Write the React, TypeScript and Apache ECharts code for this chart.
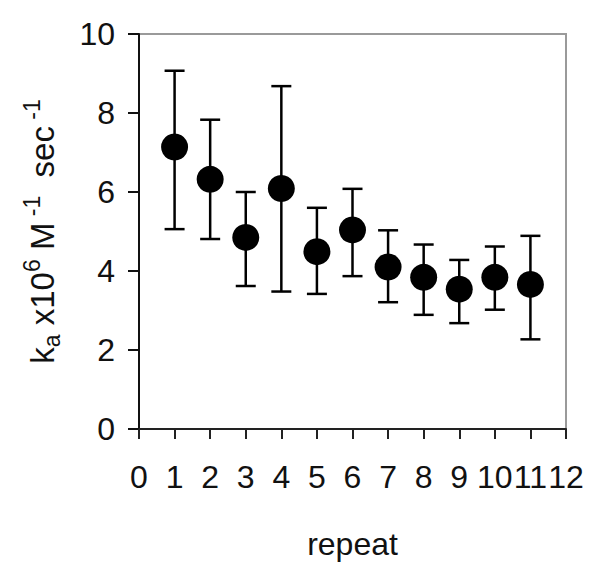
import React, { useEffect, useRef } from "react";
import * as echarts from "echarts";

const repeats = [1, 2, 3, 4, 5, 6, 7, 8, 9, 10, 11];
const kaMean = [7.14, 6.32, 4.85, 6.09, 4.49, 5.04, 4.1, 3.84, 3.54, 3.84, 3.66];
const kaUpper = [9.07, 7.83, 6.0, 8.68, 5.6, 6.08, 5.03, 4.67, 4.28, 4.62, 4.89];
const kaLower = [5.06, 4.81, 3.62, 3.48, 3.42, 3.87, 3.21, 2.89, 2.68, 3.02, 2.27];

const FONT = "'Liberation Sans', Arial, sans-serif";

export default function App() {
  const ref = useRef<HTMLDivElement>(null);
  useEffect(() => {
    if (!ref.current) return;
    const chart = echarts.init(ref.current, null, { renderer: "svg" });
    const points = repeats.map((r, i) => [r, kaMean[i]]);
    const bars = repeats.map((r, i) => [r, kaLower[i], kaUpper[i]]);
    chart.setOption({
      animation: false,
      backgroundColor: "#ffffff",
      grid: {
        left: 139,
        right: 34,
        top: 34,
        bottom: 144,
        show: true,
        borderColor: "#9a9a9a",
        borderWidth: 2,
      },
      xAxis: {
        type: "value",
        min: 0,
        max: 12,
        interval: 1,
        name: "repeat",
        nameLocation: "middle",
        nameGap: 99,
        nameTextStyle: { fontFamily: FONT, fontSize: 32, color: "#111" },
        axisLine: { show: true, onZero: false, lineStyle: { color: "#222", width: 2 } },
        axisTick: { show: true, inside: false, length: 10, lineStyle: { color: "#222", width: 2 } },
        axisLabel: { margin: 32, fontFamily: FONT, fontSize: 32, color: "#111" },
        splitLine: { show: false },
      },
      yAxis: {
        type: "value",
        min: 0,
        max: 10,
        interval: 2,
        name:
          "{n|k}{sub|a}{n| x10}{sup|6}{n| M}{sup| -1}{n|  sec}{sup| -1}",
        nameLocation: "middle",
        nameGap: 80,
        nameRotate: 90,
        nameTextStyle: {
          fontFamily: FONT,
          color: "#111",
          rich: {
            n: { fontFamily: FONT, fontSize: 33, color: "#111" },
            sub: { fontFamily: FONT, fontSize: 23, color: "#111", verticalAlign: "bottom", padding: [0, 0, -4, 0] },
            sup: { fontFamily: FONT, fontSize: 23, color: "#111", verticalAlign: "top", padding: [-6, 0, 0, 0] },
          },
        },
        axisLine: { show: true, onZero: false, lineStyle: { color: "#111", width: 2 } },
        axisTick: { show: true, inside: false, length: 11, lineStyle: { color: "#111", width: 2 } },
        axisLabel: { margin: 24, fontFamily: FONT, fontSize: 32, color: "#111" },
        splitLine: { show: false },
      },
      series: [
        {
          type: "custom",
          data: bars,
          renderItem: (params: any, api: any) => {
            const x = api.value(0);
            const lo = api.coord([x, api.value(1)]);
            const hi = api.coord([x, api.value(2)]);
            const hw = 10;
            const style = { stroke: "#000", lineWidth: 2.5 };
            return {
              type: "group",
              children: [
                { type: "line", shape: { x1: lo[0], y1: lo[1], x2: hi[0], y2: hi[1] }, style },
                { type: "line", shape: { x1: hi[0] - hw, y1: hi[1], x2: hi[0] + hw, y2: hi[1] }, style },
                { type: "line", shape: { x1: lo[0] - hw, y1: lo[1], x2: lo[0] + hw, y2: lo[1] }, style },
              ],
            };
          },
          z: 2,
        },
        {
          type: "scatter",
          data: points,
          symbol: "circle",
          symbolSize: 27,
          itemStyle: { color: "#000", opacity: 1 },
          z: 3,
        },
      ],
    });
    return () => chart.dispose();
  }, []);
  return <div ref={ref} style={{ width: 600, height: 573, position: "absolute", left: 0, top: 0 }} />;
}
